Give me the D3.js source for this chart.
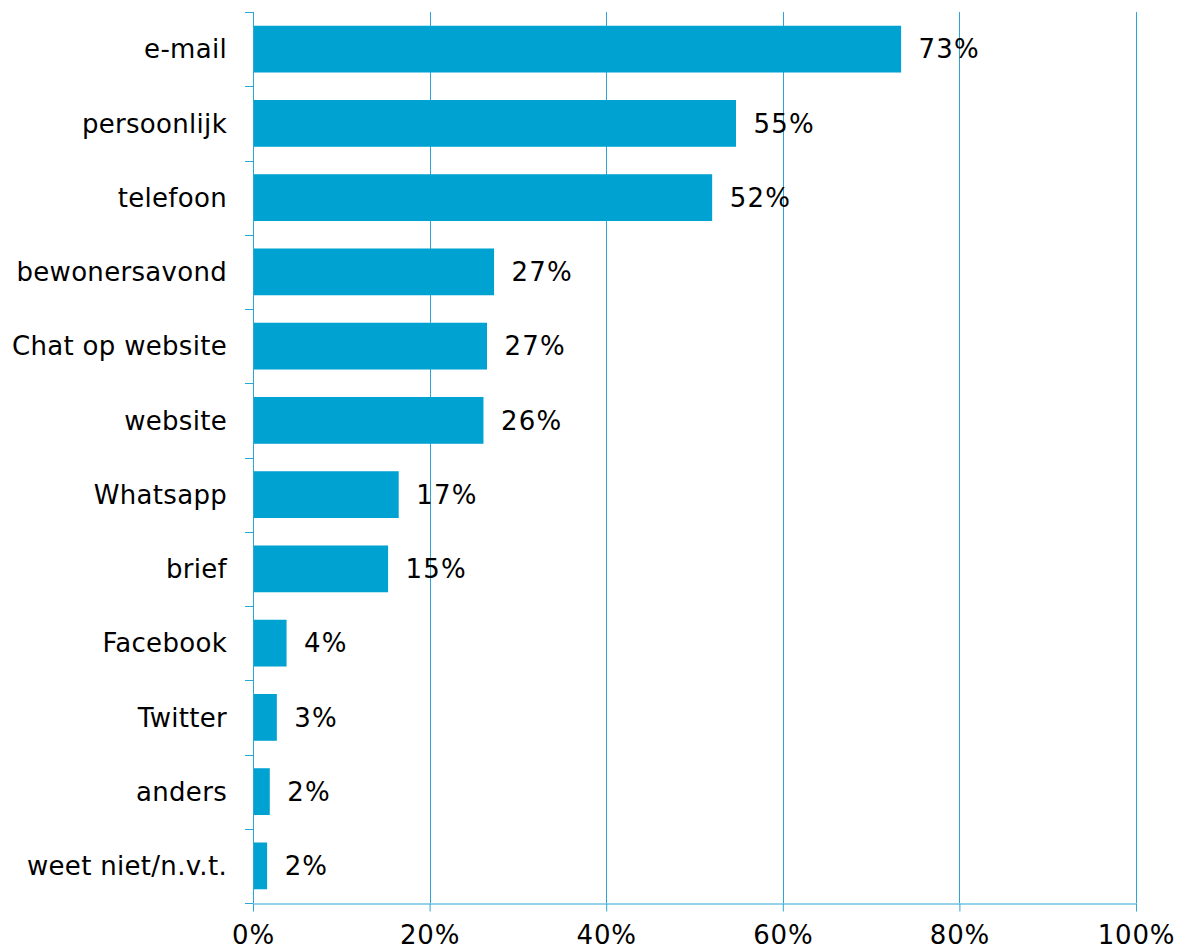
<!DOCTYPE html>
<html>
<head>
<meta charset="utf-8">
<script src="https://cdn.jsdelivr.net/npm/d3@7"></script>
<style>
  body { margin: 0; background: #fff; }
  text { font-family: "DejaVu Sans", Verdana, sans-serif; }
</style>
</head>
<body>
<div id="chart"></div>
<script>
// categories, top to bottom
const categories = ["e-mail", "persoonlijk", "telefoon", "bewonersavond", "Chat op website",
    "website", "Whatsapp", "brief", "Facebook", "Twitter", "anders", "weet niet/n.v.t."];
// shares in percent
const values = [73.4, 54.7, 52.0, 27.3, 26.5, 26.1, 16.5, 15.3, 3.8, 2.7, 1.9, 1.6];
// printed labels
const valueLabels = ["73%", "55%", "52%", "27%", "27%", "26%", "17%", "15%", "4%", "3%", "2%", "2%"];
const xTicks = [0, 20, 40, 60, 80, 100];

const width = 1179;
const height = 951;
const marginTop = 12;
const marginRight = 43;
const marginBottom = 48;
const marginLeft = 253;

const barColor = "#00a2d1";
const axisColor = "#2ba5d6";

const data = categories.map((c, i) => ({ name: c, value: values[i], label: valueLabels[i] }));

const x = d3.scaleLinear()
    .domain([0, 100])
    .range([marginLeft, width - marginRight]);

const y = d3.scaleBand()
    .domain(categories)
    .range([marginTop, height - marginBottom])
    .paddingInner(0.37)
    .paddingOuter(0.185);

const svg = d3.select("#chart").append("svg")
    .attr("width", width)
    .attr("height", height)
    .attr("viewBox", [0, 0, width, height]);

// vertical gridlines
svg.append("g")
    .selectAll("line")
    .data(xTicks.slice(1))
    .join("line")
    .attr("x1", d => Math.round(x(d)) + 0.5)
    .attr("x2", d => Math.round(x(d)) + 0.5)
    .attr("y1", marginTop)
    .attr("y2", height - marginBottom)
    .attr("stroke", axisColor)
    .attr("stroke-width", 1);

// bars
svg.append("g")
    .selectAll("rect")
    .data(data)
    .join("rect")
    .attr("x", x(0))
    .attr("y", d => y(d.name))
    .attr("width", d => x(d.value) - x(0))
    .attr("height", y.bandwidth())
    .attr("fill", barColor);

// value labels
svg.append("g")
    .selectAll("text")
    .data(data)
    .join("text")
    .attr("x", d => x(d.value) + 17.5)
    .attr("y", d => y(d.name) + y.bandwidth() / 2)
    .attr("dy", "0.36em")
    .attr("font-size", 26)
    .attr("letter-spacing", 1.2)
    .attr("fill", "#000")
    .text(d => d.label);

// x axis
const xAxis = svg.append("g")
    .attr("transform", `translate(0,${Math.round(height - marginBottom) + 0.5})`)
    .call(d3.axisBottom(x).tickValues(xTicks).tickFormat(d => d + "%").tickSize(8).tickPadding(14).tickSizeOuter(0));
xAxis.select(".domain").attr("stroke", axisColor);
xAxis.selectAll(".tick line").attr("stroke", axisColor);
xAxis.selectAll(".tick text")
    .attr("font-size", 26)
    .attr("font-family", "DejaVu Sans, Verdana, sans-serif")
    .attr("letter-spacing", 0.8)
    .attr("fill", "#000");

// y axis: ticks at band boundaries
const bounds = d3.range(categories.length + 1).map(i => marginTop + i * (height - marginBottom - marginTop) / categories.length);
const yAxis = svg.append("g");
yAxis.append("line")
    .attr("x1", Math.round(x(0)) + 0.5)
    .attr("x2", Math.round(x(0)) + 0.5)
    .attr("y1", marginTop)
    .attr("y2", height - marginBottom)
    .attr("stroke", axisColor);
yAxis.selectAll("line.tick")
    .data(bounds)
    .join("line")
    .attr("class", "tick")
    .attr("x1", x(0) - 8)
    .attr("x2", x(0))
    .attr("y1", d => Math.round(d) + 0.5)
    .attr("y2", d => Math.round(d) + 0.5)
    .attr("stroke", axisColor);

// category labels
svg.append("g")
    .selectAll("text")
    .data(data)
    .join("text")
    .attr("x", x(0) - 26)
    .attr("y", d => y(d.name) + y.bandwidth() / 2)
    .attr("dy", "0.36em")
    .attr("text-anchor", "end")
    .attr("font-size", 26)
    .attr("letter-spacing", 0.3)
    .attr("fill", "#000")
    .text(d => d.name);
</script>
</body>
</html>
